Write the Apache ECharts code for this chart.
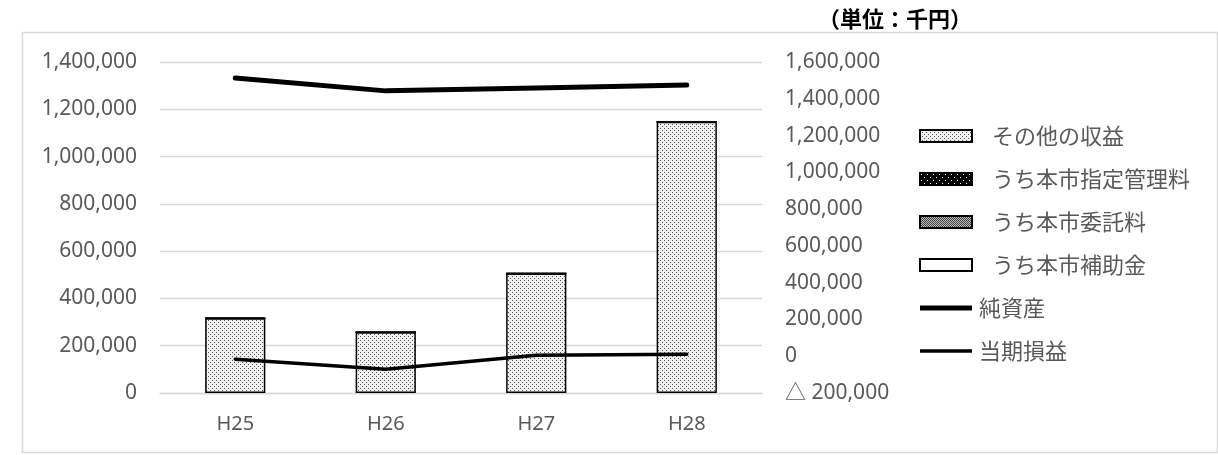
<!DOCTYPE html>
<html><head><meta charset="utf-8">
<script src="https://cdn.jsdelivr.net/npm/echarts@6/dist/echarts.min.js"></script>
<style>html,body{margin:0;padding:0;background:#fff}#c{width:1218px;height:455px}</style>
</head><body><div id="c"></div>
<script>
const categories = ['H25','H26','H27','H28'];
const otherRevenue = [316000, 257000, 505000, 1147000];
const designatedFee = [0, 0, 0, 0];
const commissionFee = [0, 0, 0, 0];
const subsidy = [0, 0, 0, 0];
const netAssets = [1513000, 1443000, 1459000, 1475000];
const netIncome = [-16000, -71000, 5000, 11000];
const leftTicks = {min: 0, max: 1400000, interval: 200000};
const rightTicks = {min: -200000, max: 1600000, interval: 200000};

function makePattern(bg, fg, size, dots) {
  const c = document.createElement('canvas');
  c.width = size; c.height = size;
  const g = c.getContext('2d');
  g.fillStyle = bg; g.fillRect(0,0,size,size);
  g.fillStyle = fg;
  dots.forEach(d => g.fillRect(d[0], d[1], 1, 1));
  return {image: c, repeat: 'repeat'};
}
const patOther = makePattern('#f0f0f0', '#555', 4, [[0,0],[2,2]]);
const patDesig = makePattern('#000', '#fff', 6, [[1,1],[4,4]]);
const patComm = makePattern('#bbb', '#444', 2, [[0,0],[1,1]]);

const FONT = '"Noto Sans", "Noto Sans CJK JP", sans-serif';
const CJK = '"Noto Sans CJK JP", sans-serif';
const fmt = v => v < 0 ? '△ ' + Math.abs(v).toLocaleString('en-US') : v.toLocaleString('en-US');

const chart = echarts.init(document.getElementById('c'));
const barStyle = (color) => ({color: color, borderColor: '#000', borderWidth: 1.5});
const barLegend = (name) => ({name: name, icon: 'rect'});
const lineLegend = (name, h) => ({name: name, icon: 'path://M0,0H52V' + h + 'H0Z', textStyle: {padding: [0,0,0,2]}});
chart.setOption({
  animation: false,
  textStyle: {fontFamily: FONT},
  graphic: [
    {type: 'rect', shape: {x: 22.5, y: 32.5, width: 1195, height: 420}, style: {fill: 'none', stroke: '#d9d9d9', lineWidth: 1.5}, z: 10},
    {type: 'text', left: 818, top: 8, style: {text: '（単位：千円）', fontSize: 22, fontWeight: 'bold', fontFamily: CJK, fill: '#000'}}
  ],
  grid: {left: 160, right: 456, top: 62, bottom: 62},
  legend: {
    orient: 'vertical', left: 914, top: 120, itemGap: 21,
    itemWidth: 52, itemHeight: 12, symbolKeepAspect: true,
    textStyle: {fontSize: 22, color: '#595959', fontFamily: CJK, padding: [0,0,0,15]},
    data: [barLegend('その他の収益'), barLegend('うち本市指定管理料'), barLegend('うち本市委託料'), barLegend('うち本市補助金'),
           lineLegend('純資産', 5), lineLegend('当期損益', 3.5)]
  },
  xAxis: {
    type: 'category', data: categories,
    axisLine: {lineStyle: {color: '#d9d9d9', width: 1.3}}, axisTick: {show: false},
    axisLabel: {color: '#595959', fontSize: 20, margin: 21}
  },
  yAxis: [
    {type: 'value', min: leftTicks.min, max: leftTicks.max, interval: leftTicks.interval,
     axisLabel: {color: '#595959', fontSize: 21, margin: 23, formatter: fmt},
     splitLine: {lineStyle: {color: '#d9d9d9', width: 1.3}}, axisLine: {show: false}, axisTick: {show: false}},
    {type: 'value', min: rightTicks.min, max: rightTicks.max, interval: rightTicks.interval,
     position: 'right',
     axisLabel: {color: '#595959', fontSize: 21, margin: 23, formatter: fmt},
     splitLine: {show: false}, axisLine: {show: false}, axisTick: {show: false}}
  ],
  series: [
    {name: 'その他の収益', type: 'bar', stack: 's', barWidth: '40%', data: otherRevenue, itemStyle: barStyle(patOther)},
    {name: 'うち本市指定管理料', type: 'bar', stack: 's', data: designatedFee, itemStyle: barStyle(patDesig)},
    {name: 'うち本市委託料', type: 'bar', stack: 's', data: commissionFee, itemStyle: barStyle(patComm)},
    {name: 'うち本市補助金', type: 'bar', stack: 's', data: subsidy, itemStyle: barStyle('#fff')},
    {name: '純資産', type: 'line', yAxisIndex: 1, data: netAssets, symbol: 'none',
     lineStyle: {color: '#000', width: 5, cap: 'round'}, itemStyle: {color: '#000'}},
    {name: '当期損益', type: 'line', yAxisIndex: 1, data: netIncome, symbol: 'none',
     lineStyle: {color: '#000', width: 3.5, cap: 'round'}, itemStyle: {color: '#000'}}
  ]
});
</script></body></html>
